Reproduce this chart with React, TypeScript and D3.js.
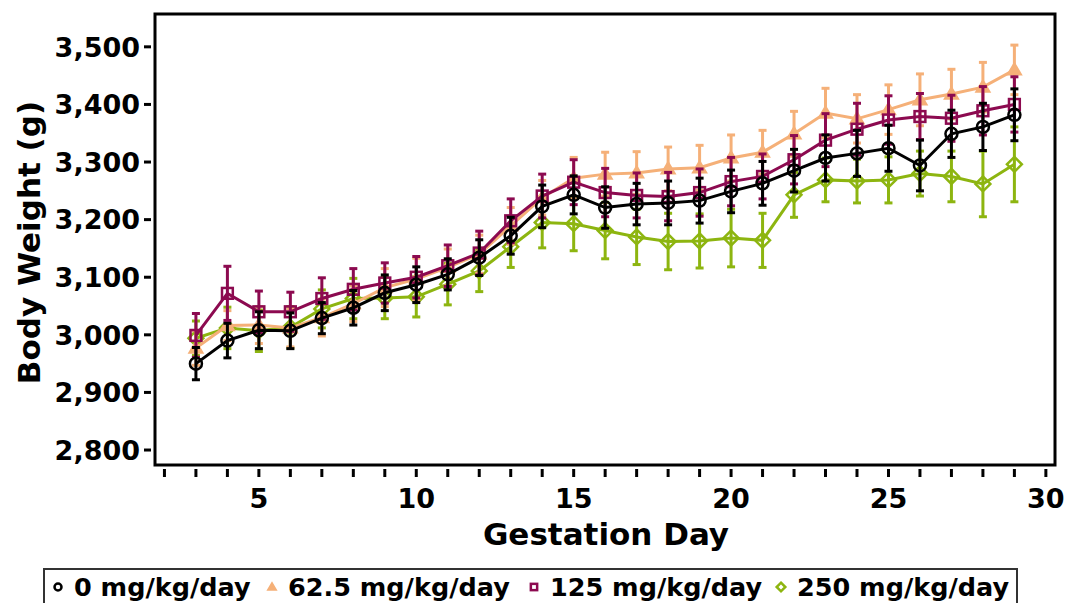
import React from "react";
import * as d3 from "d3";

const days = [3, 4, 5, 6, 7, 8, 9, 10, 11, 12, 13, 14, 15, 16, 17, 18, 19, 20, 21, 22, 23, 24, 25, 26, 27, 28, 29];

const mean0 = [2950, 2990, 3008, 3007, 3029, 3047, 3073, 3087, 3105, 3134, 3172, 3223, 3243, 3221, 3227, 3229, 3233, 3249, 3263, 3285, 3307, 3315, 3324, 3294, 3349, 3361, 3382];
const err0 = [28, 30, 32, 31, 27, 30, 31, 31, 27, 31, 32, 37, 33, 36, 36, 38, 39, 37, 38, 37, 40, 40, 40, 44, 41, 41, 45];

const mean62 = [2977, 3016, 3017, 3012, 3030, 3054, 3082, 3097, 3117, 3140, 3189, 3238, 3272, 3279, 3281, 3288, 3290, 3307, 3317, 3349, 3385, 3375, 3391, 3408, 3418, 3430, 3460];
const err62 = [30, 26, 32, 33, 32, 31, 33, 36, 32, 33, 32, 30, 36, 38, 37, 38, 39, 40, 38, 39, 43, 42, 43, 45, 43, 43, 43];

const mean125 = [2999, 3072, 3040, 3040, 3063, 3079, 3090, 3100, 3120, 3142, 3198, 3241, 3265, 3247, 3242, 3240, 3247, 3266, 3275, 3304, 3338, 3357, 3373, 3379, 3376, 3389, 3400];
const err125 = [38, 47, 36, 34, 36, 36, 35, 36, 36, 38, 38, 38, 39, 42, 39, 42, 41, 42, 39, 42, 46, 45, 42, 40, 40, 42, 48];

const mean250 = [2994, 3012, 3007, 3013, 3045, 3063, 3064, 3066, 3088, 3111, 3153, 3195, 3193, 3181, 3170, 3162, 3163, 3168, 3164, 3243, 3269, 3267, 3269, 3280, 3275, 3262, 3296];
const err250 = [30, 36, 36, 36, 33, 35, 36, 35, 36, 36, 36, 44, 47, 49, 48, 49, 47, 50, 47, 39, 38, 38, 40, 39, 44, 57, 65];

const yTicks = [2800, 2900, 3000, 3100, 3200, 3300, 3400, 3500];
const xLabelTicks = [5, 10, 15, 20, 25, 30];
const xMinorTicks = [2, 3, 4, 5, 6, 7, 8, 9, 10, 11, 12, 13, 14, 15, 16, 17, 18, 19, 20, 21, 22, 23, 24, 25, 26, 27, 28, 29, 30];

type Shape = "circle" | "triangle" | "square" | "diamond";
const seriesList: { name: string; mean: number[]; err: number[]; color: string; shape: Shape; filled: boolean }[] = [
  { name: "250 mg/kg/day", mean: mean250, err: err250, color: "#8db510", shape: "diamond", filled: false },
  { name: "62.5 mg/kg/day", mean: mean62, err: err62, color: "#f5b078", shape: "triangle", filled: true },
  { name: "125 mg/kg/day", mean: mean125, err: err125, color: "#8c0a50", shape: "square", filled: false },
  { name: "0 mg/kg/day", mean: mean0, err: err0, color: "#000000", shape: "circle", filled: false },
];
const legendOrder = ["0 mg/kg/day", "62.5 mg/kg/day", "125 mg/kg/day", "250 mg/kg/day"];
const legendX = [58, 272, 534, 781];

const FONT = "'DejaVu Sans', sans-serif";

function Marker({ shape, x, y, color, filled, s }: { shape: Shape; x: number; y: number; color: string; filled: boolean; s: number }) {
  const fill = filled ? color : "none";
  if (shape === "circle") return <circle cx={x} cy={y} r={s * 0.5} fill={fill} stroke={color} strokeWidth={2.5} />;
  if (shape === "square") return <rect x={x - s * 0.45} y={y - s * 0.45} width={s * 0.9} height={s * 0.9} fill={fill} stroke={color} strokeWidth={2.5} />;
  if (shape === "triangle") {
    const h = s * 0.55;
    return <path d={`M${x},${y - h} L${x + h},${y + h * 0.7} L${x - h},${y + h * 0.7} Z`} fill={fill} stroke={color} strokeWidth={2} />;
  }
  const h = s * 0.62;
  return <path d={`M${x},${y - h} L${x + h},${y} L${x},${y + h} L${x - h},${y} Z`} fill={fill} stroke={color} strokeWidth={2.5} />;
}

export default function App() {
  const W = 1068, H = 603;
  const left = 155, right = 1055, top = 14, bottom = 465;
  const x = d3.scaleLinear().domain([1.7, 30.29]).range([left, right]);
  const y = d3.scaleLinear().domain([2774, 3557]).range([bottom, top]);
  const line = d3.line<number>().x((_, i) => x(days[i])).y((v) => y(v));

  return (
    <svg width={W} height={H} style={{ position: "absolute", left: 0, top: 0, background: "#fff" }} fontFamily={FONT}>
      <rect x={0} y={0} width={W} height={H} fill="#fff" />
      {/* y ticks */}
      {yTicks.map((t) => (
        <g key={t}>
          <line x1={left - 11} x2={left - 4} y1={y(t)} y2={y(t)} stroke="#000" strokeWidth={3} />
          <text x={left - 15} y={y(t)} dy="0.36em" textAnchor="end" fontSize={27} fontWeight="bold">
            {d3.format(",")(t)}
          </text>
        </g>
      ))}
      {/* x ticks */}
      {xMinorTicks.map((t) => (
        <line key={t} x1={x(t)} x2={x(t)} y1={bottom + 4} y2={bottom + 12} stroke="#000" strokeWidth={3} />
      ))}
      {xLabelTicks.map((t) => (
        <text key={t} x={x(t)} y={508} textAnchor="middle" fontSize={27} fontWeight="bold">
          {t}
        </text>
      ))}
      <text x={606} y={545} textAnchor="middle" fontSize={31} fontWeight="bold">Gestation Day</text>
      <text transform={`translate(40,${(top + bottom) / 2 + 3}) rotate(-90)`} textAnchor="middle" fontSize={31} fontWeight="bold">
        Body Weight (g)
      </text>

      {/* series */}
      {seriesList.map((s) => (
        <g key={s.name}>
          <path d={line(s.mean) || ""} fill="none" stroke={s.color} strokeWidth={3} />
          {s.mean.map((m, i) => {
            const cx = x(days[i]);
            const y1 = y(m + s.err[i]);
            const y2 = y(m - s.err[i]);
            return (
              <g key={i} stroke={s.color} strokeWidth={3}>
                <line x1={cx} x2={cx} y1={y1} y2={y2} />
                <line x1={cx - 4} x2={cx + 4} y1={y1} y2={y1} />
                <line x1={cx - 4} x2={cx + 4} y1={y2} y2={y2} />
              </g>
            );
          })}
          {s.mean.map((m, i) => (
            <Marker key={i} shape={s.shape} x={x(days[i])} y={y(m)} color={s.color} filled={s.filled} s={12} />
          ))}
        </g>
      ))}

      {/* frame */}
      <rect x={left} y={top} width={right - left} height={bottom - top} fill="none" stroke="#000" strokeWidth={3} />

      {/* legend */}
      <rect x={44} y={569} width={973} height={50} fill="none" stroke="#333" strokeWidth={2} />
      {legendOrder.map((n, i) => {
        const s = seriesList.find((q) => q.name === n)!;
        return (
          <g key={n}>
            <Marker shape={s.shape} x={legendX[i]} y={587} color={s.color} filled={s.filled} s={7} />
            <text x={legendX[i] + 16} y={596} fontSize={25.5} fontWeight="bold">{n}</text>
          </g>
        );
      })}
    </svg>
  );
}
